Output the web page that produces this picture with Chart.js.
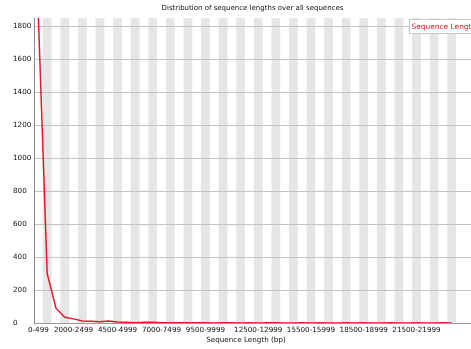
<!DOCTYPE html>
<html>
<head>
<meta charset="utf-8">
<script src="https://cdn.jsdelivr.net/npm/chart.js@4/dist/chart.umd.min.js"></script>
<style>
  html, body { margin: 0; padding: 0; background: #fff; }
  #wrap { width: 471px; height: 349px; position: relative; }
</style>
</head>
<body>
<div id="wrap"><canvas id="c" width="471" height="349"></canvas></div>
<script>
// Length bins (bp)
const lengthBins = [
  '0-499','500-999','1000-1499','1500-1999','2000-2499','2500-2999',
  '3000-3499','3500-3999','4000-4499','4500-4999','5000-5499','5500-5999',
  '6000-6499','6500-6999','7000-7499','7500-7999','8000-8499','8500-8999',
  '9000-9499','9500-9999','10000-10499','10500-10999','11000-11499','11500-11999',
  '12000-12499','12500-12999','13000-13499','13500-13999','14000-14499','14500-14999',
  '15000-15499','15500-15999','16000-16499','16500-16999','17000-17499','17500-17999',
  '18000-18499','18500-18999','19000-19499','19500-19999','20000-20499','20500-20999',
  '21000-21499','21500-21999','22000-22499','22500-22999','23000-23499','23500-23999'
];

// Number of sequences per bin
const sequenceCounts = [
  1850, 300, 90, 35, 25, 12, 11, 8, 12, 6, 4, 2,
  5, 5, 2, 1, 1, 1, 1, 1, 0, 1, 1, 0,
  1, 0, 1, 1, 0, 0, 1, 0, 1, 0, 0, 1,
  0, 1, 0, 0, 1, 0, 0, 1, 0, 0, 1, 0
];

// Bins whose names are printed under the axis
const xTickLabels = ['0-499','2000-2499','4500-4999','7000-7499','9500-9999',
                     '12500-12999','15500-15999','18500-18999','21500-21999'];

// Left axis
const yTickValues = [0, 200, 400, 600, 800, 1000, 1200, 1400, 1600, 1800];
const yMax = 1850;

const chartTitle = 'Distribution of sequence lengths over all sequences';
const xAxisTitle = 'Sequence Length (bp)';
const seriesName = 'Sequence Length';

const FONT = '"DejaVu Sans", Verdana, sans-serif';
const RED = 'rgb(226,24,44)';

// Alternating grey columns behind each bin
const bandPlugin = {
  id: 'bands',
  beforeDraw(chart) {
    const { ctx, chartArea: a, scales: { x } } = chart;
    ctx.save();
    ctx.fillStyle = '#e6e6e6';
    for (let i = 1; i < lengthBins.length; i += 2) {
      const l = x.getPixelForValue(i - 0.5);
      const r = x.getPixelForValue(i + 0.5);
      ctx.fillRect(l, a.top, r - l, a.bottom - a.top);
    }
    ctx.restore();
  }
};

// Title, axis caption and legend box
const textPlugin = {
  id: 'texts',
  afterDraw(chart) {
    const { ctx, chartArea: a } = chart;
    ctx.save();
    ctx.fillStyle = '#111';
    ctx.textAlign = 'center';
    ctx.textBaseline = 'middle';
    ctx.font = '7px ' + FONT;
    ctx.fillText(chartTitle, (a.left + a.right) / 2, 8);
    ctx.font = '7.2px ' + FONT;
    ctx.fillText(xAxisTitle, 246, 340);

    // legend
    ctx.fillStyle = '#ffffff';
    ctx.strokeStyle = '#c8c8c8';
    ctx.lineWidth = 1;
    ctx.fillRect(409.5, 19.5, 70, 14);
    ctx.strokeRect(409.5, 19.5, 70, 14);
    ctx.fillStyle = RED;
    ctx.textAlign = 'left';
    ctx.font = '7.45px ' + FONT;
    ctx.fillText(seriesName, 411.5, 27);
    ctx.restore();
  }
};

new Chart(document.getElementById('c'), {
  type: 'line',
  data: {
    datasets: [{
      label: seriesName,
      data: sequenceCounts.map((v, i) => ({ x: i, y: v })),
      borderColor: RED,
      borderWidth: 1.5,
      pointRadius: 0,
      tension: 0,
      fill: false
    }]
  },
  options: {
    responsive: false,
    animation: false,
    devicePixelRatio: 1,
    layout: { padding: { left: 13, top: 18, right: 0, bottom: 0 } },
    plugins: {
      legend: { display: false },
      title: { display: false },
      tooltip: { enabled: false }
    },
    scales: {
      x: {
        type: 'linear',
        min: -0.5,
        max: 49.2,
        grid: { display: false, drawTicks: false },
        border: { display: true, color: '#9a9a9a', width: 1 },
        afterBuildTicks(scale) {
          scale.ticks = xTickLabels.map(l => ({ value: lengthBins.indexOf(l) }));
        },
        afterFit(scale) { scale.height = 26; },
        ticks: {
          autoSkip: false,
          maxRotation: 0,
          minRotation: 0,
          padding: 3,
          color: '#111',
          font: { family: FONT, size: 7.2 },
          callback: (v) => lengthBins[v]
        }
      },
      y: {
        type: 'linear',
        min: 0,
        max: yMax,
        grid: { color: '#c4c4c4', lineWidth: 1, drawTicks: false },
        border: { display: true, color: '#8a8a8a', width: 1 },
        afterBuildTicks(scale) {
          scale.ticks = yTickValues.map(v => ({ value: v }));
        },
        afterFit(scale) { scale.width = 21; },
        ticks: {
          crossAlign: 'far',
          padding: 2,
          color: '#111',
          font: { family: FONT, size: 7.2 },
          callback: (v) => String(v)
        }
      }
    }
  },
  plugins: [bandPlugin, textPlugin]
});
</script>
</body>
</html>
